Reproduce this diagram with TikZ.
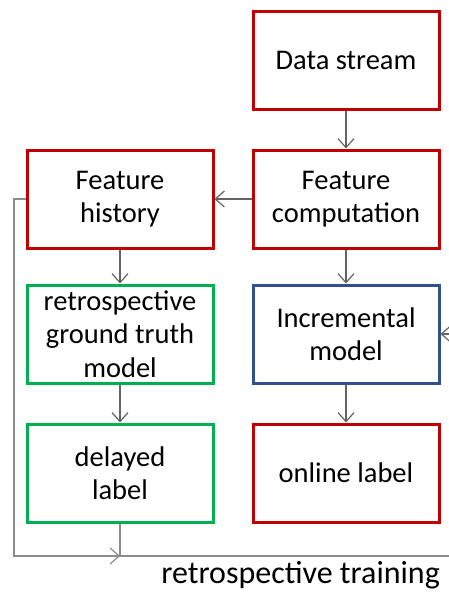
\documentclass[tikz,border=0pt]{standalone}
\usepackage{fontspec}
\setmainfont{Carlito}
\usetikzlibrary{arrows.meta}
\definecolor{boxred}{RGB}{192,0,0}
\definecolor{boxgreen}{RGB}{0,176,80}
\definecolor{boxblue}{RGB}{47,82,143}
\definecolor{arrowgray}{RGB}{100,100,100}
\definecolor{loopgray}{RGB}{140,140,140}
\begin{document}
\begin{tikzpicture}[x=1pt,y=-1pt,
  block/.style={draw,line width=3pt,minimum width=186pt,minimum height=98pt,
    align=center,font=\fontsize{28.5}{33.5}\selectfont,inner sep=2pt},
  redbox/.style={block,draw=boxred},
  greenbox/.style={block,draw=boxgreen},
  bluebox/.style={block,draw=boxblue},
  flow/.style={draw=arrowgray,line width=1.2pt,-{Straight Barb[length=9pt,width=16pt,line width=1.2pt]}},
  loop/.style={draw=loopgray,line width=1.2pt},
  looparrow/.style={loop,-{Straight Barb[length=9pt,width=16pt,line width=1.2pt]}}]
\useasboundingbox (0,0) rectangle (449,592);

\node[redbox]   (data) at (346,60)  {Data stream};
\node[redbox]   (comp) at (346,199) {Feature\\computation};
\node[redbox]   (hist) at (120,199) {Feature\\history};
\node[greenbox] (gt)   at (120,334) {retrospective\\ground truth\\model};
\node[bluebox]  (inc)  at (346,334) {Incremental\\model};
\node[greenbox] (del)  at (120,473) {delayed\\label};
\node[redbox]   (onl)  at (346,473) {online label};

\draw[flow] (data) -- (comp);
\draw[flow] (comp) -- (hist);
\draw[flow] (hist) -- (gt);
\draw[flow] (gt) -- (del);
\draw[flow] (inc) -- (onl);
\draw[flow] (comp) -- (inc);

% retrospective training loop
\coordinate (corner) at (14,199);
\coordinate (join)   at (120,556);
\coordinate (rend)   at (449,556);
\coordinate (rin)    at (449,334);
\draw[looparrow] (hist.west) -- (corner) |- (join);
\draw[loop] (del.south) -- (join) -- (rend);
\draw[flow] (rin) -- (inc.east);

\node[anchor=east,font=\fontsize{32}{36}\selectfont,inner sep=0pt] (rt) at (440,575) {retrospective training};
\end{tikzpicture}
\end{document}
